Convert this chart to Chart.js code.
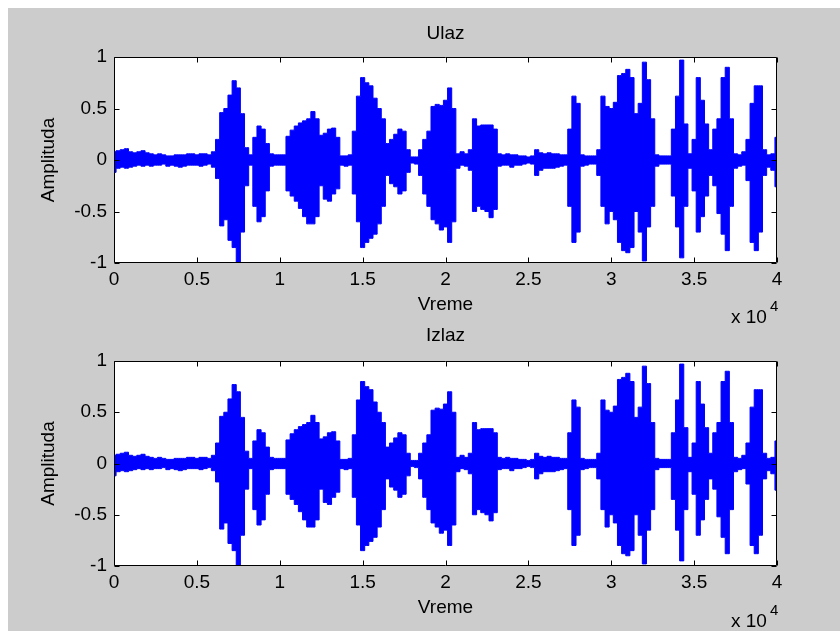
<!DOCTYPE html>
<html><head><meta charset="utf-8">
<script src="https://cdn.jsdelivr.net/npm/chart.js@4.4.1/dist/chart.umd.min.js"></script>
<style>
html,body{margin:0;padding:0;background:#fff;width:840px;height:631px;overflow:hidden;}
#fig{position:absolute;left:8px;top:8px;width:832px;height:623px;background:#cccccc;}
canvas{position:absolute;left:0;}
#c1{top:0px;}
#c2{top:300px;}
</style></head><body>
<div id="fig"></div>
<canvas id="c1" width="840" height="330"></canvas>
<canvas id="c2" width="840" height="331"></canvas>
<script>
// sample spacing of the envelope readings (samples)
const SAMPLE_STEP = 250;

// upper envelope of the input signal, one reading every SAMPLE_STEP samples
const ulazTop = [
 0.08,0.09,0.10,0.11,0.08,0.07,0.08,0.09,0.07,0.06,
 0.05,0.06,0.05,0.04,0.04,0.05,0.05,0.05,0.06,0.06,
 0.05,0.06,0.06,0.05,0.08,0.20,0.46,0.50,0.63,0.77,
 0.70,0.45,0.12,0.05,0.22,0.33,0.30,0.16,0.06,0.05,
 0.05,0.05,0.23,0.29,0.33,0.36,0.38,0.40,0.47,0.40,
 0.24,0.26,0.30,0.31,0.22,0.04,0.04,0.05,0.28,0.62,
 0.80,0.75,0.72,0.60,0.50,0.40,0.16,0.20,0.25,0.30,
 0.28,0.10,0.03,0.03,0.10,0.20,0.28,0.52,0.54,0.53,
 0.58,0.70,0.50,0.06,0.08,0.06,0.10,0.40,0.33,0.34,
 0.34,0.34,0.30,0.06,0.05,0.06,0.05,0.05,0.04,0.04,
 0.03,0.04,0.10,0.07,0.06,0.07,0.06,0.06,0.05,0.05,
 0.30,0.62,0.55,0.05,0.04,0.04,0.04,0.10,0.62,0.52,
 0.50,0.56,0.82,0.84,0.88,0.80,0.45,0.55,0.95,0.78,
 0.40,0.05,0.04,0.04,0.04,0.30,0.62,0.97,0.35,0.06,
 0.20,0.80,0.58,0.35,0.10,0.30,0.40,0.80,0.90,0.40,
 0.06,0.05,0.08,0.20,0.55,0.72,0.72,0.10,0.05,0.06,
 0.22
];
// lower envelope of the input signal
const ulazBot = [
 -0.12,-0.08,-0.07,-0.08,-0.07,-0.06,-0.05,-0.06,-0.05,-0.06,
 -0.05,-0.05,-0.04,-0.06,-0.05,-0.06,-0.07,-0.06,-0.05,-0.05,
 -0.05,-0.06,-0.05,-0.04,-0.07,-0.18,-0.64,-0.58,-0.78,-0.85,
 -1.00,-0.70,-0.25,-0.05,-0.45,-0.60,-0.55,-0.30,-0.06,-0.05,
 -0.05,-0.05,-0.30,-0.35,-0.40,-0.47,-0.55,-0.62,-0.62,-0.55,
 -0.25,-0.38,-0.40,-0.33,-0.28,-0.05,-0.06,-0.05,-0.33,-0.60,
 -0.85,-0.80,-0.76,-0.72,-0.62,-0.45,-0.15,-0.23,-0.26,-0.33,
 -0.30,-0.12,-0.03,-0.04,-0.15,-0.33,-0.45,-0.58,-0.62,-0.68,
 -0.65,-0.80,-0.60,-0.08,-0.05,-0.06,-0.10,-0.50,-0.45,-0.48,
 -0.50,-0.56,-0.48,-0.06,-0.05,-0.05,-0.07,-0.05,-0.05,-0.04,
 -0.03,-0.04,-0.15,-0.10,-0.08,-0.08,-0.08,-0.07,-0.06,-0.05,
 -0.45,-0.80,-0.70,-0.06,-0.05,-0.04,-0.04,-0.15,-0.45,-0.62,
 -0.50,-0.58,-0.80,-0.88,-0.90,-0.85,-0.50,-0.70,-0.98,-0.65,
 -0.45,-0.06,-0.04,-0.04,-0.04,-0.35,-0.65,-0.95,-0.45,-0.08,
 -0.30,-0.70,-0.55,-0.35,-0.15,-0.25,-0.52,-0.72,-0.88,-0.45,
 -0.08,-0.06,-0.05,-0.20,-0.80,-0.88,-0.70,-0.15,-0.07,-0.10,
 -0.26
];
// output signal envelope (visually identical to the input)
const izlazTop = ulazTop.slice();
const izlazBot = ulazBot.slice();

const xTickValues = [0,5000,10000,15000,20000,25000,30000,35000,40000];
const xTickLabels = ['0','0.5','1','1.5','2','2.5','3','3.5','4'];
const yTickValues = [-1,-0.5,0,0.5,1];
const yTickLabels = ['-1','-0.5','0','0.5','1'];

const FONT = '"Liberation Sans", Arial, Helvetica, sans-serif';
const BLUE = '#0000ff';

function matlabAxes(L) {
  return {
    id: 'matlabAxes',
    beforeDraw(chart) {
      const a = chart.chartArea, ctx = chart.ctx;
      ctx.save();
      ctx.fillStyle = '#ffffff';
      ctx.fillRect(a.left, a.top, a.right - a.left, a.bottom - a.top);
      ctx.restore();
    },
    afterDatasetsDraw(chart) {
      const a = chart.chartArea, ctx = chart.ctx;
      const xs = chart.scales.x, ys = chart.scales.y;
      const l = Math.round(a.left) + 0.5, r = Math.round(a.right) - 0.5;
      const t = Math.round(a.top) + 0.5, b = Math.round(a.bottom) - 0.5;
      ctx.save();
      ctx.strokeStyle = '#000';
      ctx.lineWidth = 1;
      ctx.beginPath();
      ctx.rect(l, t, r - l, b - t);
      const TL = 5;
      xTickValues.forEach(v => {
        const px = Math.round(xs.getPixelForValue(v)) + 0.5;
        ctx.moveTo(px, b); ctx.lineTo(px, b - TL);
        ctx.moveTo(px, t); ctx.lineTo(px, t + TL);
      });
      yTickValues.forEach(v => {
        const py = Math.round(ys.getPixelForValue(v)) + 0.5;
        ctx.moveTo(l, py); ctx.lineTo(l + TL, py);
        ctx.moveTo(r, py); ctx.lineTo(r - TL, py);
      });
      ctx.stroke();
      // exponent label
      ctx.fillStyle = '#000';
      ctx.textBaseline = 'alphabetic';
      ctx.textAlign = 'left';
      ctx.font = '19px ' + FONT;
      ctx.fillText('x 10', a.right - 46, a.bottom + L.expBase);
      ctx.font = '15px ' + FONT;
      ctx.fillText('4', a.right - 7, a.bottom + L.expBase - 12.5);
      ctx.restore();
    }
  };
}

function makeChart(id, title, topArr, botArr, L) {
  const xs = topArr.map((_, i) => i * SAMPLE_STEP);
  const font = {family: FONT, size: 19, weight: 'normal'};
  return new Chart(document.getElementById(id), {
    type: 'line',
    data: {
      datasets: [
        {data: xs.map((x, i) => ({x: x, y: topArr[i]})), borderColor: BLUE, backgroundColor: BLUE,
         borderWidth: 1, pointRadius: 0, stepped: 'middle', fill: '+1'},
        {data: xs.map((x, i) => ({x: x, y: botArr[i]})), borderColor: BLUE, backgroundColor: BLUE,
         borderWidth: 1, pointRadius: 0, stepped: 'middle', fill: false}
      ]
    },
    options: {
      responsive: false, animation: false, devicePixelRatio: 1,
      layout: {padding: {left: 0, right: 63, top: 0, bottom: L.padBottom}},
      plugins: {
        legend: {display: false}, tooltip: {enabled: false},
        title: {display: true, text: title, fullSize: false, color: '#000', font: font,
                padding: {top: L.tTop, bottom: L.tBot}}
      },
      scales: {
        x: {
          type: 'linear', position: 'bottom', min: 0, max: 40000,
          grid: {display: false, drawTicks: false}, border: {display: false},
          afterBuildTicks(s) { s.ticks = xTickValues.map(v => ({value: v})); },
          ticks: {autoSkip: false, maxRotation: 0, minRotation: 0, padding: L.xPad, color: '#000', font: font,
                  callback: (v, i) => xTickLabels[i]},
          title: {display: true, text: 'Vreme', color: '#000', font: font, padding: {top: 0, bottom: 0}},
          afterFit(s) { s.height = L.xH; }
        },
        y: {
          type: 'linear', position: 'left', min: -1, max: 1,
          grid: {display: false, drawTicks: false}, border: {display: false},
          afterBuildTicks(s) { s.ticks = yTickValues.map(v => ({value: v})); },
          ticks: {autoSkip: false, padding: 7, color: '#000', font: font,
                  callback: (v, i) => yTickLabels[i]},
          title: {display: true, text: 'Amplituda', color: '#000', font: font, padding: {top: 37, bottom: 0}},
          afterFit(s) { s.width = 114; }
        }
      }
    },
    plugins: [matlabAxes(L)]
  });
}

makeChart('c1', 'Ulaz', ulazTop, ulazBot,
  {padBottom: 13.6, tTop: 22.3, tBot: 11.9, xPad: 5.1, xH: 53.4, expBase: 60});
makeChart('c2', 'Izlaz', izlazTop, izlazBot,
  {padBottom: 11.6, tTop: 24.6, tBot: 13.6, xPad: 5.1, xH: 53.4, expBase: 61});
</script>
</body></html>
